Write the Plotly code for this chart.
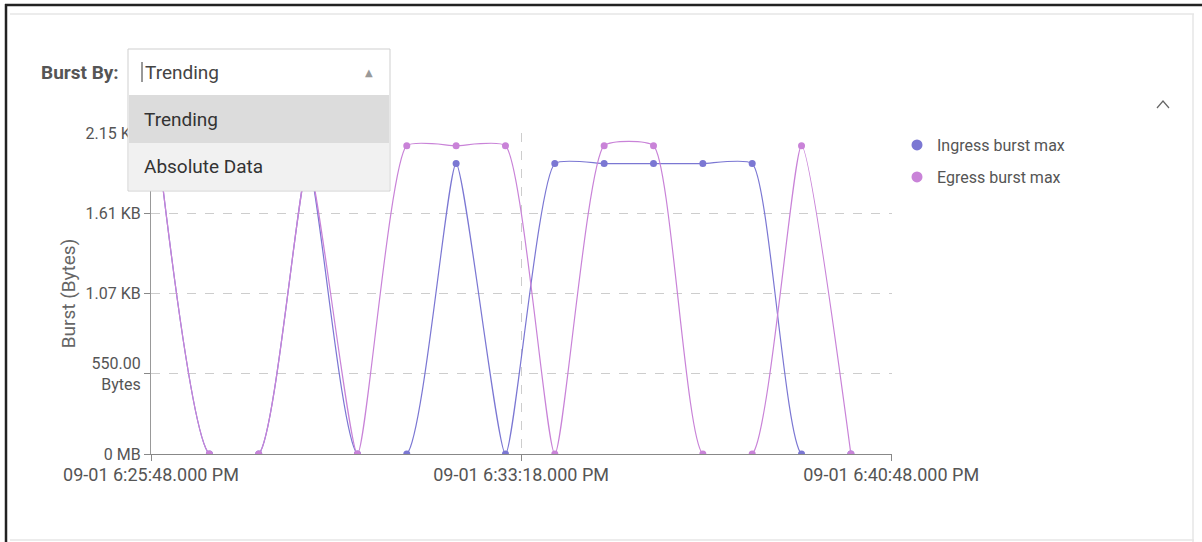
import plotly.graph_objects as go

# ---------------- data ----------------
times = [
    "2023-09-01 18:25:59", "2023-09-01 18:26:59", "2023-09-01 18:27:59",
    "2023-09-01 18:28:59", "2023-09-01 18:29:59", "2023-09-01 18:30:59",
    "2023-09-01 18:31:59", "2023-09-01 18:32:59", "2023-09-01 18:33:59",
    "2023-09-01 18:34:59", "2023-09-01 18:35:59", "2023-09-01 18:36:59",
    "2023-09-01 18:37:59", "2023-09-01 18:38:59", "2023-09-01 18:39:59",
]
ingress = [1993, 0, 0, 1993, 0, 0, 1993, 0, 1993, 1993, 1993, 1993, 1993, 0, 0]
egress = [1993, 0, 0, 1993, 0, 2116, 2116, 2116, 0, 2116, 2116, 0, 0, 2116, 0]

series_names = ["Ingress burst max", "Egress burst max"]
series_colors = ["#7b77d3", "#c983d8"]

x_tick_vals = ["2023-09-01 18:25:48", "2023-09-01 18:33:18", "2023-09-01 18:40:48"]
x_tick_text = ["09-01 6:25:48.000 PM", "09-01 6:33:18.000 PM", "09-01 6:40:48.000 PM"]
x_range = ["2023-09-01 18:25:48", "2023-09-01 18:40:49"]
y_tick_vals = [0, 550, 1100, 1650, 2200]
y_tick_text = ["0 MB", "550.00<br>Bytes", "1.07 KB", "1.61 KB", "2.15 KB"]
y_range = [0, 2203]

# ---------------- layout geometry ----------------
W, H = 1202, 542
L, R, T, B = 151, 892, 133, 454


def px(x):
    return (x - L) / (R - L)


def py(y):
    return (B - y) / (B - T)


FONT = "Roboto"
fig = go.Figure()

for name, vals, col in zip(series_names, [ingress, egress], series_colors):
    fig.add_trace(go.Scatter(
        x=times, y=vals, name=name, mode="lines+markers",
        line=dict(color=col, width=1.2, shape="spline", smoothing=0.5),
        marker=dict(color=col, size=7),
        showlegend=False, cliponaxis=True,
    ))

# legend-only marker traces (two separate legends for spacing)
for i, (name, col) in enumerate(zip(series_names, series_colors)):
    fig.add_trace(go.Scatter(
        x=[None], y=[None], name=name, mode="markers",
        marker=dict(color=col, size=11),
        legend="legend" if i == 0 else "legend2",
    ))

legend_common = dict(
    font=dict(family=FONT, size=16, color="#555555"),
    bgcolor="rgba(0,0,0,0)", xanchor="left", yanchor="middle",
    itemwidth=30, tracegroupgap=0,
)
fig.update_layout(
    legend=dict(x=px(897), y=py(145), **legend_common),
    legend2=dict(x=px(897), y=py(177), **legend_common),
)

fig.update_xaxes(
    type="date", range=x_range,
    tickvals=x_tick_vals, ticktext=x_tick_text,
    ticks="outside", ticklen=6, tickcolor="#888888",
    ticklabelstandoff=-2,
    showline=True, linecolor="#888888", linewidth=1.2,
    showgrid=True, gridcolor="#cdcdcd", griddash="dash", gridwidth=1,
    tickfont=dict(family=FONT, size=18, color="#555555"),
    zeroline=False,
)
fig.update_yaxes(
    range=y_range, tickvals=y_tick_vals, ticktext=y_tick_text,
    ticks="outside", ticklen=6, tickcolor="#888888",
    showline=True, linecolor="#999999", linewidth=1.2,
    showgrid=True, gridcolor="#cdcdcd", griddash="dash", gridwidth=1,
    tickfont=dict(family=FONT, size=16, color="#555555"),
    title=dict(text="Burst (Bytes)", font=dict(family=FONT, size=19, color="#666666"), standoff=4),
    zeroline=False,
)

shapes = []
annotations = []

# outer frame lines
shapes.append(dict(type="line", xref="paper", yref="paper", x0=px(5), x1=px(1202), y0=py(5), y1=py(5),
                   line=dict(color="#222222", width=2.5), layer="above"))
shapes.append(dict(type="line", xref="paper", yref="paper", x0=px(6), x1=px(6), y0=py(4), y1=py(542),
                   line=dict(color="#222222", width=2.5), layer="above"))
shapes.append(dict(type="line", xref="paper", yref="paper", x0=px(10), x1=px(1194), y0=py(14), y1=py(14),
                   line=dict(color="#e6e6e6", width=1.5), layer="above"))
shapes.append(dict(type="line", xref="paper", yref="paper", x0=px(1193), x1=px(1193), y0=py(14), y1=py(542),
                   line=dict(color="#e6e6e6", width=1.5), layer="above"))
shapes.append(dict(type="line", xref="paper", yref="paper", x0=px(10), x1=px(1194), y0=py(540), y1=py(540),
                   line=dict(color="#e6e6e6", width=1.5), layer="above"))

# dropdown box
shapes.append(dict(type="rect", xref="paper", yref="paper", x0=px(128), x1=px(390), y0=py(49), y1=py(191),
                   fillcolor="#ffffff", line=dict(color="#cfcfcf", width=1), layer="above"))
shapes.append(dict(type="rect", xref="paper", yref="paper", x0=px(129), x1=px(389), y0=py(95), y1=py(143),
                   fillcolor="#dcdcdc", line=dict(width=0), layer="above"))
shapes.append(dict(type="rect", xref="paper", yref="paper", x0=px(129), x1=px(389), y0=py(143), y1=py(190),
                   fillcolor="#f1f1f1", line=dict(width=0), layer="above"))
# text cursor
shapes.append(dict(type="line", xref="paper", yref="paper", x0=px(142), x1=px(142), y0=py(62), y1=py(82),
                   line=dict(color="#333333", width=1), layer="above"))
# collapse chevron
shapes.append(dict(type="path", xref="paper", yref="paper",
                   path="M {} {} L {} {} L {} {}".format(px(1157), py(108), px(1163), py(101), px(1169), py(108)),
                   line=dict(color="#666666", width=1.2), layer="above"))

annotations.append(dict(text="<b>Burst By:</b>", xref="paper", yref="paper", x=px(121), y=py(72),
                        xanchor="right", yanchor="middle", showarrow=False,
                        font=dict(family=FONT, size=19, color="#555555")))
annotations.append(dict(text="Trending", xref="paper", yref="paper", x=px(143), y=py(72),
                        xanchor="left", yanchor="middle", showarrow=False,
                        font=dict(family=FONT, size=19, color="#444444")))
annotations.append(dict(text="▲", xref="paper", yref="paper", x=px(369), y=py(72),
                        xanchor="center", yanchor="middle", showarrow=False,
                        font=dict(family="DejaVu Sans", size=10, color="#999999")))
annotations.append(dict(text="Trending", xref="paper", yref="paper", x=px(142), y=py(119),
                        xanchor="left", yanchor="middle", showarrow=False,
                        font=dict(family=FONT, size=19, color="#333333")))
annotations.append(dict(text="Absolute Data", xref="paper", yref="paper", x=px(142), y=py(166),
                        xanchor="left", yanchor="middle", showarrow=False,
                        font=dict(family=FONT, size=19, color="#333333")))

fig.update_layout(
    width=W, height=H,
    margin=dict(l=L, r=W - R, t=T, b=H - B, pad=0),
    paper_bgcolor="#ffffff", plot_bgcolor="#ffffff",
    shapes=shapes, annotations=annotations,
    font=dict(family=FONT),
)

fig.write_html("out.html", config={"displayModeBar": False},
               post_script="document.body.style.margin='0';")
